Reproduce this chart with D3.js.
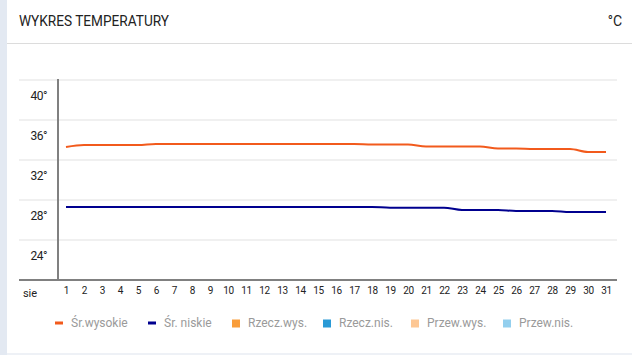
<!DOCTYPE html>
<html><head><meta charset="utf-8">
<script src="https://cdn.jsdelivr.net/npm/d3@7/dist/d3.min.js"></script>
<style>
html,body{margin:0;padding:0;background:#fff;}
svg{display:block;font-family:Roboto,"Noto Sans",sans-serif;}
</style></head>
<body><svg id="c" width="632" height="355"></svg>
<script>
const days = d3.range(1, 32);
const highs = [33.3,33.5,33.5,33.5,33.5,33.6,33.6,33.6,33.6,33.6,33.6,33.6,33.6,33.6,33.6,33.6,33.6,33.55,33.55,33.55,33.35,33.35,33.35,33.35,33.15,33.15,33.1,33.1,33.1,32.8,32.8];
const lows = [27.3,27.3,27.3,27.3,27.3,27.3,27.3,27.3,27.3,27.3,27.3,27.3,27.3,27.3,27.3,27.3,27.3,27.3,27.23,27.23,27.23,27.23,27.0,27.0,27.0,26.9,26.9,26.9,26.8,26.8,26.8];
const yTicks = [40,36,32,28,24];
const monthLabel = "sie";
const title = "WYKRES TEMPERATURY";
const unit = "°C";
const legendNames = ["Śr.wysokie","Śr. niskie","Rzecz.wys.","Rzecz.nis.","Przew.wys.","Przew.nis."];
const legendColors = ["#f25a1c","#00008f","#f99d3a","#2a9ad6","#fdc794","#93cfee"];
const legendShapes = ["line","line","rect","rect","rect","rect"];

const svg = d3.select("#c");
// left strip
svg.append("rect").attr("x",0).attr("y",0).attr("width",7).attr("height",355).attr("fill","#e3e9f2");
svg.append("line").attr("x1",7).attr("x2",632).attr("y1",354).attr("y2",354).attr("stroke","#eef1f6").attr("stroke-width",2);
// header
svg.append("text").attr("x",19).attr("y",26).attr("font-size",15).attr("fill","#222")
  .attr("textLength",150).attr("lengthAdjust","spacingAndGlyphs").text(title);
svg.append("text").attr("x",622).attr("y",26).attr("text-anchor","end").attr("font-size",14).attr("fill","#222").text(unit);
svg.append("line").attr("x1",7).attr("x2",632).attr("y1",43.5).attr("y2",43.5).attr("stroke","#dcdcdc").attr("stroke-width",1);

const x = d3.scaleLinear().domain([1,31]).range([66,606]);
const y = d3.scaleLinear().domain([20,40]).range([280,80]);

// gridlines
svg.append("g").selectAll("line").data(yTicks).join("line")
  .attr("x1",19).attr("x2",617).attr("y1",d=>y(d)).attr("y2",d=>y(d))
  .attr("stroke","#f0f0f0").attr("stroke-width",2);
// y labels
svg.append("g").selectAll("text").data(yTicks).join("text")
  .attr("x",47).attr("y",d=>y(d)+20).attr("text-anchor","end").attr("font-size",12).attr("fill","#222")
  .attr("letter-spacing",-0.5).text(d=>d+"°");
// axes lines
svg.append("line").attr("x1",58).attr("x2",58).attr("y1",79).attr("y2",280).attr("stroke","#808080").attr("stroke-width",2);
svg.append("line").attr("x1",19).attr("x2",617).attr("y1",280).attr("y2",280).attr("stroke","#808080").attr("stroke-width",2);
// x labels
const xAxis = d3.axisBottom(x).tickValues(days).tickSize(0).tickPadding(0).tickFormat(d3.format("d"));
const gx = svg.append("g").attr("transform","translate(0,287)").call(xAxis);
gx.select(".domain").remove();
gx.selectAll("text").attr("font-size",10).attr("fill","#222").attr("font-family","Roboto,sans-serif").attr("letter-spacing",-0.3);
svg.append("text").attr("x",30).attr("y",297).attr("text-anchor","middle").attr("font-size",11).attr("fill","#222").text(monthLabel);

// lines
const line = d3.line().x((d,i)=>x(days[i])).y(d=>y(d)).curve(d3.curveMonotoneX);
svg.append("path").datum(highs).attr("d",line).attr("fill","none").attr("stroke",legendColors[0]).attr("stroke-width",2);
svg.append("path").datum(lows).attr("d",line).attr("fill","none").attr("stroke",legendColors[1]).attr("stroke-width",2);

// legend
const legX = [55,148,232,323,411,503];
const lg = svg.append("g").selectAll("g").data(legendNames).join("g")
  .attr("transform",(d,i)=>`translate(${legX[i]},0)`);
lg.each(function(d,i){
  const g = d3.select(this);
  if(legendShapes[i]==="line") g.append("rect").attr("x",0).attr("y",321.5).attr("width",8).attr("height",3).attr("fill",legendColors[i]);
  else g.append("rect").attr("x",0).attr("y",319.5).attr("width",8).attr("height",8).attr("fill",legendColors[i]);
  g.append("text").attr("x",16).attr("y",327).attr("font-size",12).attr("fill","#9a9a9a").text(d);
});
</script></body></html>
